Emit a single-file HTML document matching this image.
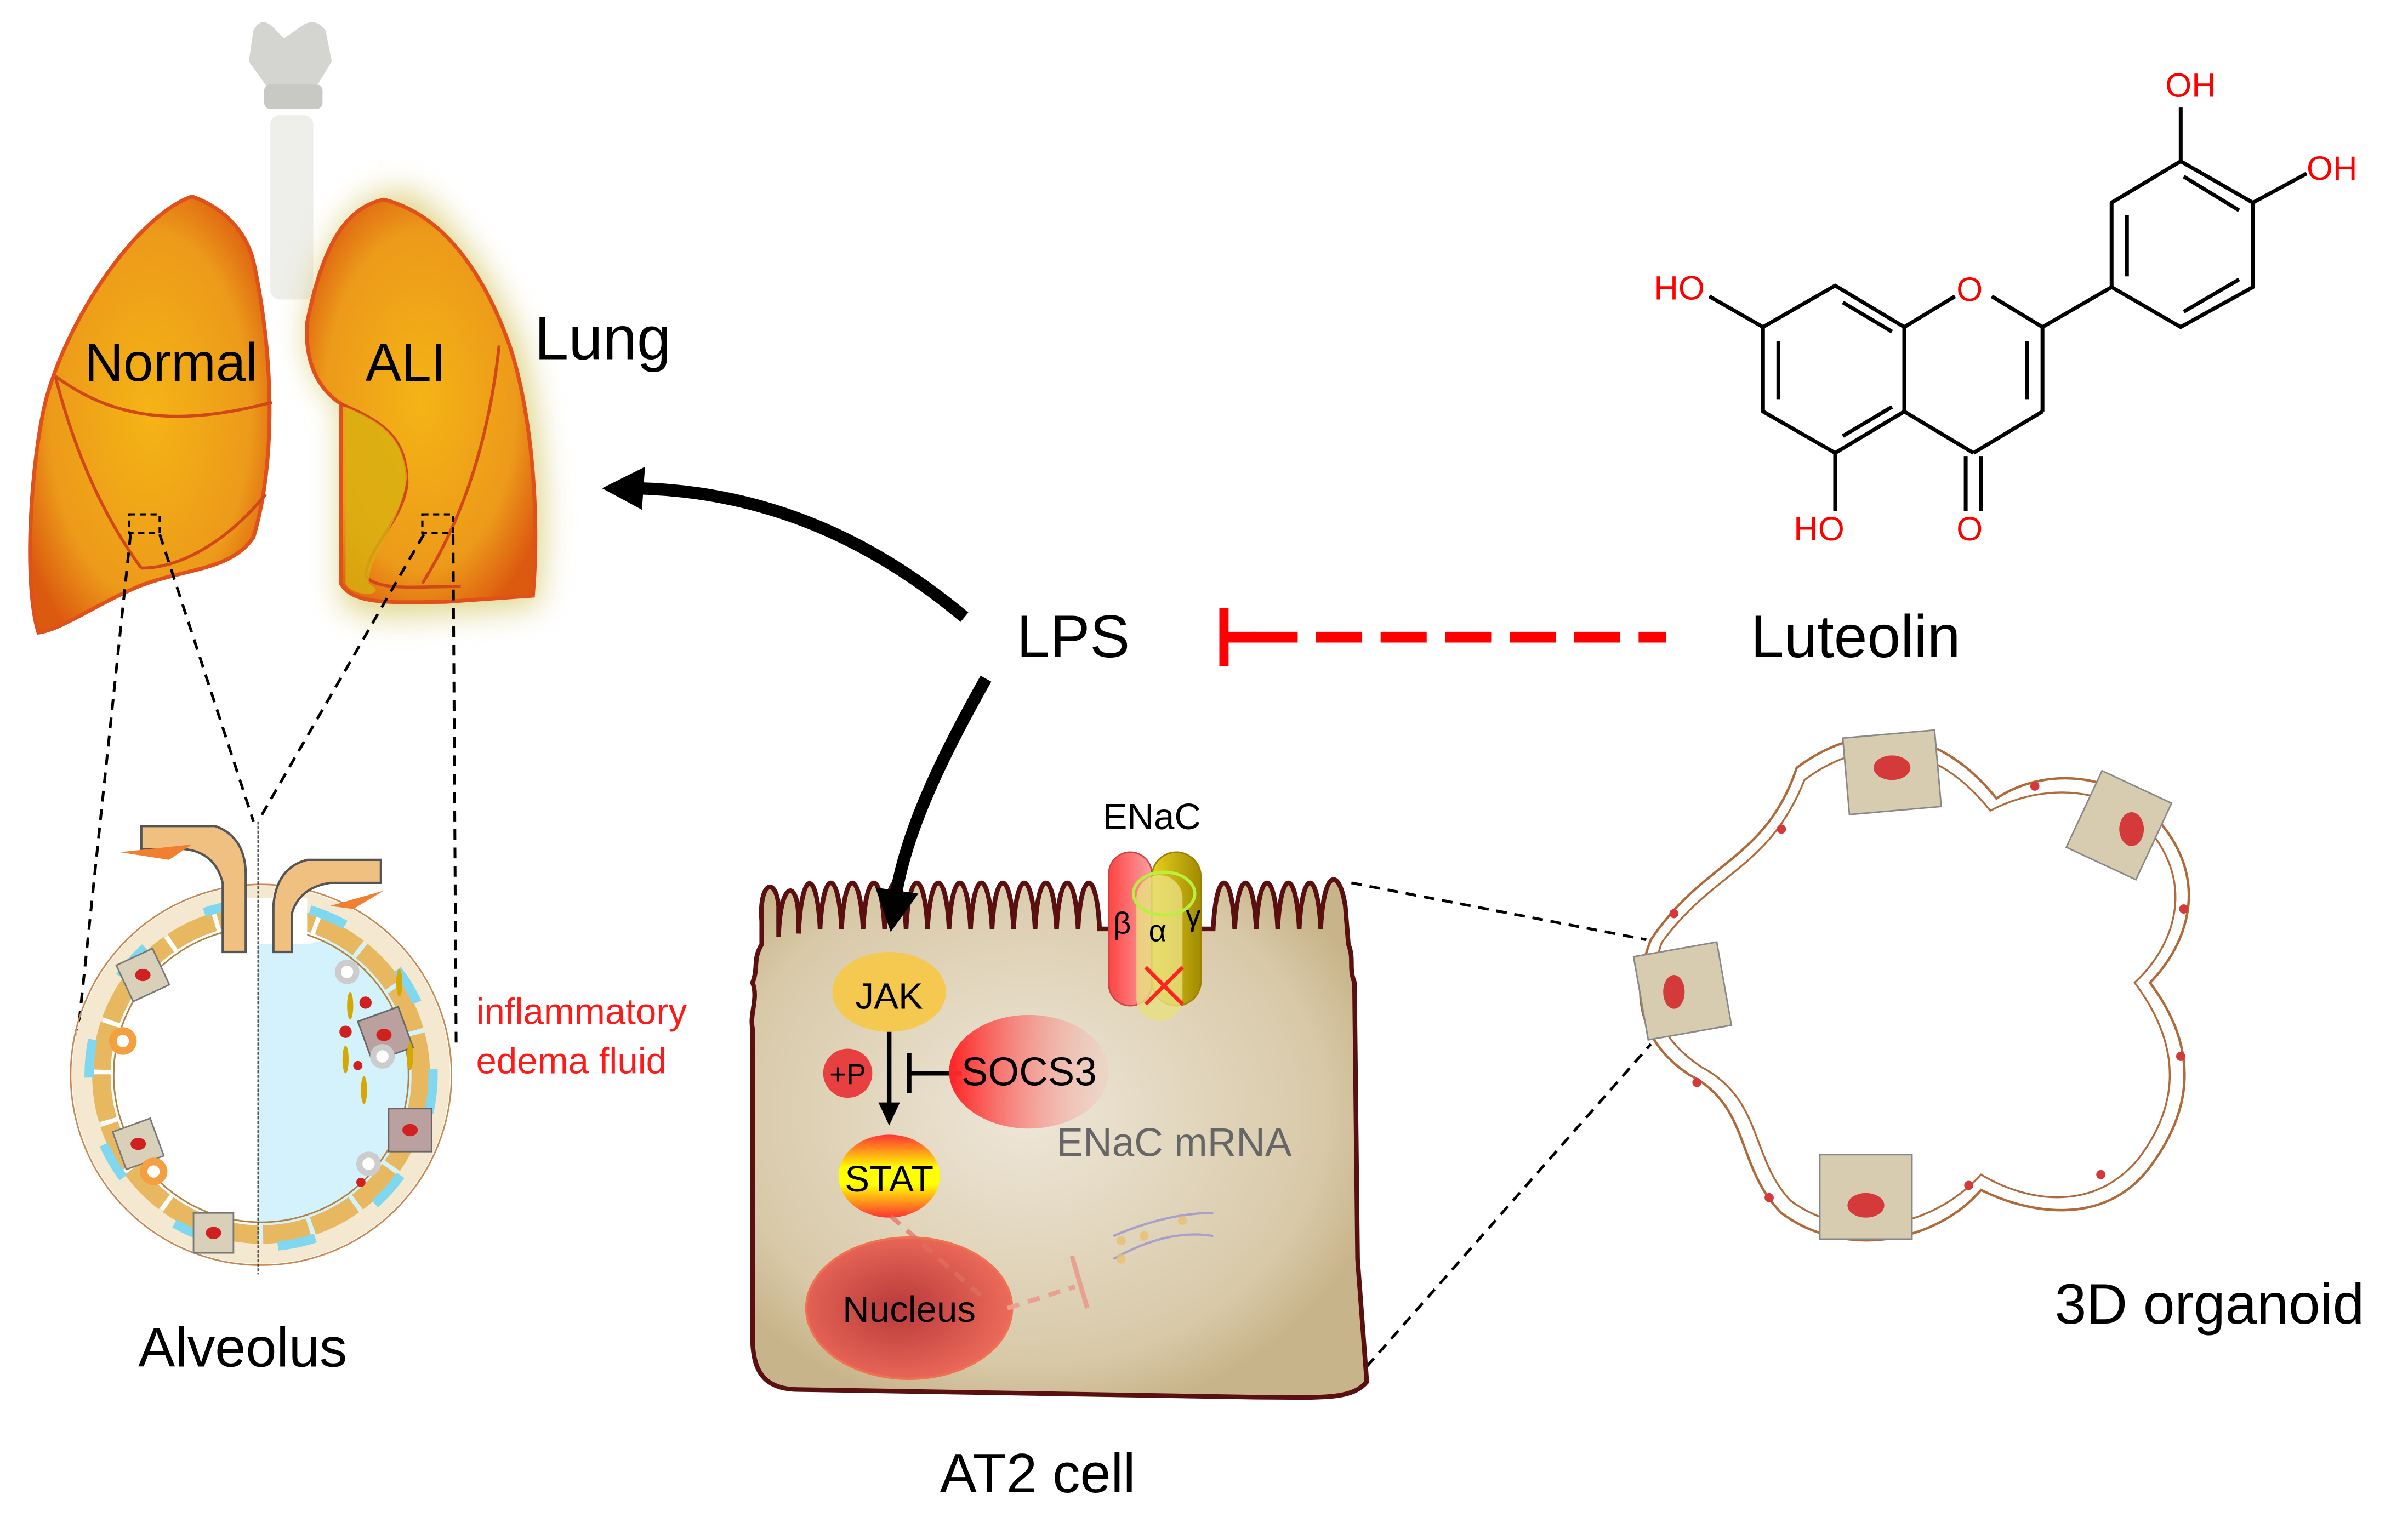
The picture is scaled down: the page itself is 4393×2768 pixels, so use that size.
<!DOCTYPE html>
<html><head><meta charset="utf-8">
<style>html,body{margin:0;padding:0;background:#fff;}svg{display:block}</style></head>
<body>
<svg xmlns="http://www.w3.org/2000/svg" width="4393" height="2768" viewBox="0 0 1568 988" font-family="Liberation Sans, Arial, sans-serif">
<defs>
<radialGradient id="lung" cx="50%" cy="50%" r="60%"><stop offset="0" stop-color="#f5b415"/><stop offset="0.7" stop-color="#ec9a1a"/><stop offset="1" stop-color="#dc5a10"/></radialGradient>
<radialGradient id="cell" cx="45%" cy="45%" r="60%"><stop offset="0" stop-color="#eee6d8"/><stop offset="0.8" stop-color="#d8c9a8"/><stop offset="1" stop-color="#c8b48a"/></radialGradient>
<radialGradient id="nuc" cx="45%" cy="50%" r="55%"><stop offset="0" stop-color="#b83a3a"/><stop offset="1" stop-color="#ec6a5a"/></radialGradient>
<linearGradient id="socs" x1="0" x2="1"><stop offset="0" stop-color="#f22"/><stop offset="1" stop-color="#f3c8c0" stop-opacity="0.3"/></linearGradient>
<linearGradient id="stat" x1="0" y1="0" x2="0" y2="1"><stop offset="0" stop-color="#f33"/><stop offset="0.4" stop-color="#ff0"/><stop offset="0.6" stop-color="#ff0"/><stop offset="1" stop-color="#f33"/></linearGradient>
<linearGradient id="beta" x1="0" x2="1"><stop offset="0" stop-color="#f44"/><stop offset="1" stop-color="#f9a0a0"/></linearGradient>
<linearGradient id="gam" x1="0" x2="1"><stop offset="0" stop-color="#e8d020"/><stop offset="1" stop-color="#a08a00"/></linearGradient>
<filter id="glow" x="-30%" y="-30%" width="160%" height="160%"><feGaussianBlur stdDeviation="10"/></filter>
</defs>

<rect x="176" y="75" width="28" height="120" rx="6" fill="#eeeeea"/>
<path d="M165 20 Q170 10 178 18 L185 25 L195 18 Q205 10 212 20 L216 40 L205 58 L175 58 L162 40Z" fill="#d4d4d0"/>
<rect x="172" y="55" width="38" height="16" rx="4" fill="#c8c8c4"/>

<path d="M250 125 C225 135 210 160 200 210 C198 240 210 255 222 263 L222 390 C230 405 260 402 290 400 L350 395 C360 330 350 260 338 220 C320 180 300 150 270 125Z" fill="#d8cc70" opacity="0.8" filter="url(#glow)"/>
<path d="M125 128 C145 135 160 150 165 170 C178 230 180 300 165 350 C150 372 120 370 90 382 C60 395 40 410 25 412 C15 380 20 300 30 260 C45 205 90 140 125 128Z" fill="url(#lung)" stroke="#e0501a" stroke-width="2.5"/>
<path d="M36 245 C70 270 110 280 177 262" fill="none" stroke="#d04818" stroke-width="2"/>
<path d="M36 245 C50 300 70 340 92 370" fill="none" stroke="#d04818" stroke-width="2"/>
<path d="M92 370 C120 370 150 350 173 322" fill="none" stroke="#d04818" stroke-width="2"/>
<path d="M250 130 C225 135 210 160 200 210 C198 240 210 255 222 263 L222 380 C230 395 260 392 290 392 L347 388 C352 330 345 260 330 220 C315 180 290 140 250 130Z" fill="url(#lung)" stroke="#e0501a" stroke-width="2.5"/>
<path d="M222 263 C250 275 265 285 265 315 C262 340 240 355 238 375 C245 385 270 382 300 382" fill="none" stroke="#d04818" stroke-width="2"/>
<path d="M225 265 L225 380 C230 390 255 388 240 380 C240 360 262 340 265 310 C262 285 250 275 225 265Z" fill="#d8b010" opacity="0.8"/>
<path d="M325 225 C318 290 300 340 275 380" fill="none" stroke="#d04818" stroke-width="2"/>

<text x="55" y="248" font-size="35" fill="#000">Normal</text>
<text x="238" y="248" font-size="35" fill="#000">ALI</text>
<text x="348" y="234" font-size="40" fill="#000">Lung</text>

<rect x="84" y="335" width="20" height="12" fill="none" stroke="#000" stroke-width="1.5" stroke-dasharray="4 3"/>
<rect x="275" y="335" width="20" height="12" fill="none" stroke="#000" stroke-width="1.5" stroke-dasharray="4 3"/>
<g stroke="#000" stroke-width="1.8" stroke-dasharray="7 5" fill="none">
<line x1="85" y1="348" x2="50" y2="680"/>
<line x1="104" y1="348" x2="165" y2="535"/>
<line x1="276" y1="348" x2="168" y2="535"/>
<line x1="295" y1="348" x2="297" y2="680"/>
<line x1="880" y1="575" x2="1072" y2="612"/>
<line x1="890" y1="890" x2="1075" y2="680"/>
</g>

<path d="M168 592 L168 820 A120 120 0 0 0 288 700 A120 120 0 0 0 240 605 Q220 610 200 615 Q185 600 168 592Z" fill="#d4f2fb"/>
<circle cx="170" cy="700" r="116" fill="none" stroke="#f5e8d0" stroke-width="14"/>
<circle cx="170" cy="700" r="104" fill="none" stroke="#e8b860" stroke-width="12" stroke-dasharray="30 3"/>
<circle cx="170" cy="700" r="124" fill="none" stroke="#c88850" stroke-width="1"/>
<circle cx="170" cy="700" r="96" fill="none" stroke="#b08040" stroke-width="1"/>
<circle cx="170" cy="700" r="112" fill="none" stroke="#7fd8f0" stroke-width="6" stroke-dasharray="25 45"/>
<rect x="150" y="585" width="50" height="30" fill="#fff"/>
<g fill="#d8d0b8" stroke="#777" stroke-width="1">
<rect x="80" y="622" width="26" height="26" transform="rotate(-25 93 635)"/>
<rect x="77" y="732" width="26" height="26" transform="rotate(-20 90 745)"/>
<rect x="126" y="790" width="26" height="26"/>
</g>
<g fill="#bba0a0" stroke="#666" stroke-width="1">
<rect x="237" y="660" width="28" height="28" transform="rotate(-20 250 674)"/>
<rect x="253" y="722" width="28" height="28"/>
</g>
<g fill="#d02020"><ellipse cx="93" cy="635" rx="5" ry="4"/><ellipse cx="90" cy="745" rx="5" ry="4"/><ellipse cx="139" cy="803" rx="5" ry="4"/><ellipse cx="250" cy="674" rx="5" ry="4"/><ellipse cx="267" cy="736" rx="5" ry="4"/>
<circle cx="238" cy="653" r="4"/><circle cx="225" cy="672" r="4"/><circle cx="253" cy="688" r="4"/><circle cx="233" cy="694" r="3"/><circle cx="235" cy="770" r="3"/></g>
<g fill="#f5a040"><circle cx="80" cy="678" r="9"/><circle cx="100" cy="763" r="9"/></g>
<g fill="#ccc"><circle cx="226" cy="633" r="8"/><circle cx="249" cy="688" r="8"/><circle cx="240" cy="758" r="8"/></g>
<g fill="#fff"><circle cx="226" cy="633" r="4"/><circle cx="249" cy="688" r="4"/><circle cx="240" cy="758" r="4"/><circle cx="80" cy="678" r="4"/><circle cx="100" cy="763" r="4"/></g>
<g fill="#d4a800"><ellipse cx="228" cy="655" rx="2" ry="9"/><ellipse cx="225" cy="690" rx="2" ry="9"/><ellipse cx="267" cy="688" rx="2" ry="9"/><ellipse cx="237" cy="710" rx="2" ry="9"/><ellipse cx="260" cy="640" rx="2" ry="9"/></g>
<path d="M92 538 L140 538 Q160 545 160 570 L160 620 L145 620 L145 575 Q140 555 120 553 L92 553Z" fill="#f0c080" stroke="#555" stroke-width="1.5"/>
<path d="M248 560 L200 560 Q180 565 178 590 L178 620 L190 620 L190 595 Q195 578 215 575 L248 575Z" fill="#f0c080" stroke="#555" stroke-width="1.5"/>
<path d="M78 555 L125 550 L110 560Z M215 590 L250 580 L230 592Z" fill="#f08030"/>
<line x1="168" y1="535" x2="168" y2="830" stroke="#333" stroke-width="0.8" stroke-dasharray="2 1"/>
<text x="90" y="890" font-size="36" fill="#000">Alveolus</text>
<text x="310" y="667" font-size="24" fill="#ff1a1a">inflammatory</text>
<text x="310" y="699" font-size="24" fill="#ff1a1a">edema fluid</text>

<path d="M628 402 C560 345 490 320 415 318" fill="none" stroke="#000" stroke-width="8"/>
<polygon points="392,318 420,304 418,332" fill="#000"/>
<text x="662" y="428" font-size="39" fill="#000">LPS</text>
<line x1="815" y1="415" x2="1085" y2="415" stroke="#f00" stroke-width="7" stroke-dasharray="30 12"/>
<line x1="797" y1="396" x2="797" y2="434" stroke="#f00" stroke-width="6"/>
<line x1="797" y1="415" x2="818" y2="415" stroke="#f00" stroke-width="7"/>
<text x="1140" y="428" font-size="39" fill="#000">Luteolin</text>

<path d="M496 600 C494 575 505 570 507 590 L507 610 C508 572 520 572 520 600 L520 608 C522 565 532 565 534 605 C536 565 546 565 548 605 C550 565 560 565 562 605 C564 565 574 565 576 605 C578 565 588 565 590 605 C592 565 602 565 604 605 C606 565 616 565 618 605 C620 565 630 565 632 605 C634 565 644 565 646 605 C648 565 658 565 660 605 C662 565 672 565 674 605 C676 565 686 565 688 605 C690 565 700 565 702 605 C704 565 714 565 716 605 L720 605 L790 605 C792 565 802 565 804 605 C806 565 816 565 818 605 C820 565 830 565 832 605 C834 565 844 565 846 605 C848 565 858 565 860 605 C862 565 872 565 876 590 L878 615 C882 625 878 630 882 640 L884 820 L890 900 C880 912 860 910 820 910 L520 905 C495 905 490 890 490 870 L490 670 C488 660 494 650 490 640 C494 630 490 625 496 615Z" fill="url(#cell)" stroke="#5a1010" stroke-width="3"/>

<path d="M642 442 C615 490 590 540 583 585" fill="none" stroke="#000" stroke-width="8"/>
<polygon points="580,607 570,578 598,582" fill="#000"/>

<text x="718" y="540" font-size="24" fill="#000">ENaC</text>
<rect x="722" y="555" width="28" height="100" rx="14" fill="url(#beta)" stroke="#c44" stroke-width="1"/>
<rect x="750" y="555" width="32" height="100" rx="16" fill="url(#gam)" stroke="#a08000" stroke-width="1"/>
<rect x="740" y="570" width="30" height="95" rx="15" fill="#e8e080" opacity="0.8"/>
<ellipse cx="758" cy="582" rx="20" ry="14" fill="none" stroke="#b8f040" stroke-width="2"/>
<text x="725" y="608" font-size="20" fill="#000">β</text>
<text x="748" y="613" font-size="20" fill="#000">α</text>
<text x="772" y="603" font-size="20" fill="#000">γ</text>
<path d="M746 630 L770 654 M770 630 L746 654" stroke="#f22" stroke-width="2.5"/>

<ellipse cx="579" cy="646" rx="37" ry="26" fill="#f5c850"/>
<text x="579" y="657" font-size="24" text-anchor="middle" fill="#000">JAK</text>
<line x1="579" y1="672" x2="579" y2="722" stroke="#000" stroke-width="3"/>
<polygon points="572,718 586,718 579,733" fill="#000"/>
<circle cx="552" cy="699" r="16" fill="#e84040"/>
<text x="552" y="706" font-size="19" text-anchor="middle" fill="#000">+P</text>
<line x1="592" y1="699" x2="626" y2="699" stroke="#000" stroke-width="3"/>
<line x1="592" y1="686" x2="592" y2="712" stroke="#000" stroke-width="3"/>
<ellipse cx="670" cy="698" rx="52" ry="37" fill="url(#socs)"/>
<text x="626" y="707" font-size="26" fill="#000">SOCS3</text>
<text x="688" y="753" font-size="26" fill="#666">ENaC mRNA</text>
<ellipse cx="579" cy="766" rx="33" ry="27" fill="url(#stat)"/>
<text x="579" y="776" font-size="24" text-anchor="middle" fill="#000">STAT</text>
<ellipse cx="592" cy="852" rx="67" ry="46" fill="url(#nuc)" stroke="#f07050" stroke-width="1.5"/>
<text x="592" y="861" font-size="24" text-anchor="middle" fill="#000">Nucleus</text>
<path d="M580 792 L640 845" stroke="#e07060" stroke-width="3" stroke-dasharray="8 6" opacity="0.7"/>
<path d="M656 852 L700 838" stroke="#e8a090" stroke-width="3" stroke-dasharray="8 6"/>
<line x1="698" y1="818" x2="708" y2="852" stroke="#e8a090" stroke-width="3"/>
<path d="M725 805 Q760 790 790 790 M725 820 Q760 800 790 805" stroke="#a8a0c8" stroke-width="1.5" fill="none"/>
<g fill="#e8c070" opacity="0.8"><circle cx="730" cy="808" r="3"/><circle cx="745" cy="805" r="3"/><circle cx="730" cy="820" r="3"/><circle cx="770" cy="795" r="3"/></g>
<text x="612" y="972" font-size="36" fill="#000">AT2 cell</text>

<path d="M1075 612 C1110 560 1150 560 1170 500 C1210 470 1260 470 1300 520 C1330 500 1380 500 1410 540 C1440 580 1420 620 1400 640 C1430 680 1430 720 1400 760 C1370 800 1320 790 1290 775 C1260 810 1200 820 1160 790 C1130 760 1140 720 1100 700 C1070 680 1060 650 1075 612Z" fill="#fff" stroke="#b06a3a" stroke-width="1.6"/>
<path d="M1082 614 C1115 568 1152 566 1175 508 C1212 480 1258 480 1296 528 C1330 510 1376 510 1403 545 C1430 582 1412 620 1390 640 C1420 680 1420 718 1393 754 C1364 790 1320 783 1290 765 C1258 800 1204 810 1166 782 C1140 755 1148 716 1108 695 C1078 675 1070 650 1082 614Z" fill="none" stroke="#b06a3a" stroke-width="1.2"/>
<g fill="#d8ccb0" stroke="#888" stroke-width="1">
<rect x="1202" y="478" width="60" height="50" transform="rotate(-5 1232 503)"/>
<rect x="1355" y="510" width="50" height="55" transform="rotate(25 1380 537)"/>
<rect x="1068" y="618" width="55" height="55" transform="rotate(-10 1095 645)"/>
<rect x="1185" y="752" width="60" height="55"/>
</g>
<g fill="#d43a3a"><ellipse cx="1232" cy="500" rx="12" ry="8"/><ellipse cx="1388" cy="540" rx="8" ry="11"/><ellipse cx="1090" cy="646" rx="7" ry="11"/><ellipse cx="1215" cy="785" rx="12" ry="8"/>
<circle cx="1160" cy="540" r="3"/><circle cx="1325" cy="512" r="3"/><circle cx="1422" cy="592" r="3"/><circle cx="1420" cy="688" r="3"/><circle cx="1368" cy="765" r="3"/><circle cx="1282" cy="772" r="3"/><circle cx="1152" cy="780" r="3"/><circle cx="1105" cy="705" r="3"/><circle cx="1090" cy="595" r="3"/></g>
<text x="1338" y="862" font-size="37" fill="#000">3D organoid</text>

<g stroke="#000" stroke-width="2.5" fill="none" stroke-linejoin="round">
<polygon points="1195,186 1240,213 1240,268 1195,295 1148,268 1148,213"/>
<line x1="1158" y1="222" x2="1158" y2="260"/><line x1="1200" y1="197" x2="1232" y2="216"/><line x1="1200" y1="284" x2="1232" y2="265"/>
<line x1="1240" y1="213" x2="1273" y2="193"/><line x1="1297" y1="193" x2="1330" y2="213"/>
<line x1="1330" y1="213" x2="1330" y2="268"/><line x1="1320" y1="222" x2="1320" y2="260"/>
<line x1="1330" y1="268" x2="1285" y2="295"/><line x1="1285" y1="295" x2="1240" y2="268"/>
<line x1="1280" y1="297" x2="1280" y2="333"/><line x1="1290" y1="297" x2="1290" y2="333"/>
<line x1="1195" y1="295" x2="1195" y2="333"/>
<line x1="1148" y1="213" x2="1113" y2="193"/>
<line x1="1330" y1="213" x2="1375" y2="187"/>
<polygon points="1375,187 1420,213 1467,187 1467,132 1420,105 1375,132"/>
<line x1="1385" y1="140" x2="1385" y2="180"/><line x1="1422" y1="203" x2="1458" y2="182"/><line x1="1422" y1="115" x2="1458" y2="137"/>
<line x1="1420" y1="105" x2="1420" y2="70"/>
<line x1="1467" y1="132" x2="1502" y2="113"/>
</g>
<g fill="#f00" font-size="22">
<text x="1274" y="196">O</text>
<text x="1274" y="352">O</text>
<text x="1168" y="352">HO</text>
<text x="1077" y="195">HO</text>
<text x="1410" y="63">OH</text>
<text x="1502" y="117">OH</text>
</g>
</svg>
</body></html>
